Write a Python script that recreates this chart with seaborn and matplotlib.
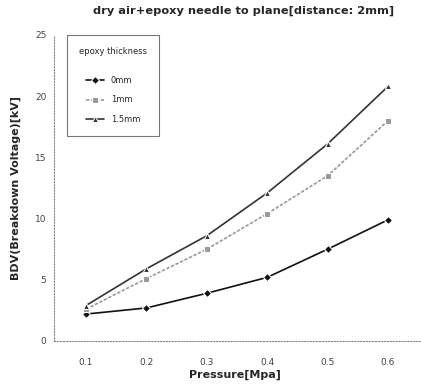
import pandas as pd
import seaborn as sns
import matplotlib.pyplot as plt

# --- data ---
pressure = [0.1, 0.2, 0.3, 0.4, 0.5, 0.6]
bdv_0mm = [2.2, 2.7, 3.9, 5.2, 7.5, 9.9]
bdv_1mm = [2.6, 5.1, 7.5, 10.4, 13.5, 18.0]
bdv_15mm = [2.9, 5.9, 8.6, 12.1, 16.1, 20.8]
thickness = ['0mm', '1mm', '1.5mm']

rows = []
for name, vals in zip(thickness, [bdv_0mm, bdv_1mm, bdv_15mm]):
    for p, v in zip(pressure, vals):
        rows.append({'Pressure': p, 'BDV': v, 'epoxy thickness': name})
df = pd.DataFrame(rows)

sns.set_theme(style="white")
plt.rcParams['font.family'] = ['DejaVu Sans']

fig = plt.figure(figsize=(4.21, 3.85), dpi=100)
ax = fig.add_axes([54 / 421, 44 / 385, 366 / 421, 306 / 385])

sns.lineplot(
    data=df, x='Pressure', y='BDV',
    hue='epoxy thickness', style='epoxy thickness',
    palette={'0mm': '#111111', '1mm': '#9a9a9a', '1.5mm': '#333333'},
    markers={'0mm': 'D', '1mm': 's', '1.5mm': '^'},
    dashes={'0mm': '', '1mm': (2, 1), '1.5mm': ''},
    markersize=4.5, linewidth=1.2, ax=ax,
)

ax.set_xlim(0.047, 0.653)
ax.set_ylim(0, 25)
ax.set_xticks(pressure)
ax.set_xticklabels([str(p) for p in pressure])
ax.set_yticks([0, 5, 10, 15, 20, 25])
ax.tick_params(labelsize=6.5, colors='#444444', length=2)
ax.tick_params(axis='x', pad=10)

for s in ['top', 'right']:
    ax.spines[s].set_visible(False)
for s in ['left', 'bottom']:
    ax.spines[s].set_linestyle(':')
    ax.spines[s].set_color('#888888')
    ax.spines[s].set_linewidth(0.8)

ax.set_xlabel('Pressure[Mpa]', fontsize=8, fontweight='bold')
ax.xaxis.set_label_coords(0.495, -0.093)
ax.set_ylabel('BDV(Breakdown Voltage)[kV]', fontsize=8, fontweight='bold')
ax.yaxis.set_label_coords(-0.09, 0.5)
fig.suptitle('dry air+epoxy needle to plane[distance: 2mm]', x=0.578, y=0.985,
             fontsize=8.2, fontweight='bold')

leg = ax.legend(title='epoxy thickness', loc='upper left', fontsize=6,
                title_fontsize=6, bbox_to_anchor=(0.025, 1.012), fancybox=False,
                edgecolor='#555555', labelspacing=1.3, borderpad=1.4,
                handlelength=2.2)
leg.get_frame().set_linewidth(0.8)
leg._legend_box.sep = 14

fig.savefig('out.png', dpi=100)
